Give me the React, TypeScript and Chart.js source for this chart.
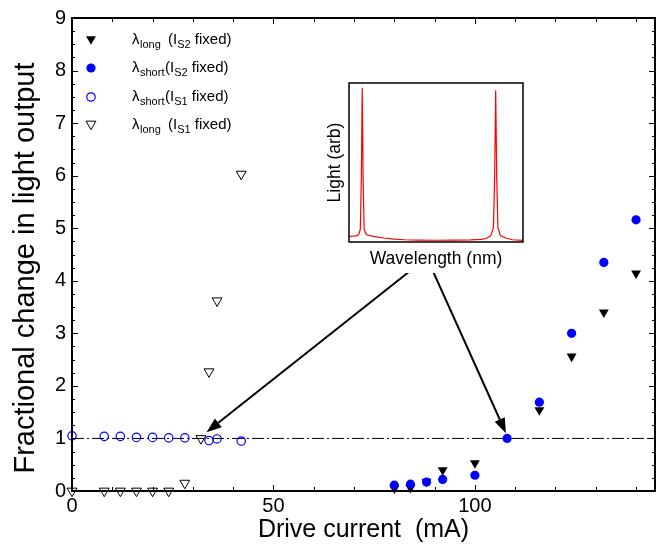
import React, { useEffect, useRef } from "react";
import { Chart, registerables } from "chart.js";

Chart.register(...registerables);

// ---- Measured points: drive current (mA) vs fractional change in light output ----
const longS2Current = [80, 84, 88, 92, 100, 116, 124, 132, 140];
const longS2Change = [0.05, 0.06, 0.18, 0.4, 0.53, 1.54, 2.56, 3.4, 4.14];

const shortS2Current = [80, 84, 88, 92, 100, 108, 116, 124, 132, 140];
const shortS2Change = [0.11, 0.13, 0.17, 0.22, 0.3, 1.0, 1.69, 3.0, 4.35, 5.16];

const shortS1Current = [0, 8, 12, 16, 20, 24, 28, 34, 36, 42];
const shortS1Change = [1.05, 1.04, 1.04, 1.02, 1.02, 1.01, 1.01, 0.96, 0.99, 0.95];

const longS1Current = [0, 8, 12, 16, 20, 24, 28, 32, 34, 36, 42];
const longS1Change = [0, 0, 0, 0, 0, 0, 0.15, 1.0, 2.27, 3.62, 6.03];

// Unity reference level (dash-dot line)
const referenceLevel = 1;

// Axis ranges and tick labels
const xMin = 0;
const xMax = 144.7;
const xTickLabels = [0, 50, 100];
const yMin = 0;
const yMax = 9;

// Inset spectrum (arbitrary wavelength units, arbitrary light units)
const spectrumWavelength = [
  0, 2, 4, 5.5, 6.5, 7.1, 7.6, 8.1, 8.7, 10, 14, 20, 26, 32, 40, 50, 60, 70, 76,
  79, 81.5, 83, 83.7, 84.3, 84.9, 85.6, 87, 90, 94, 100,
];
const spectrumLight = [
  0.035, 0.036, 0.038, 0.045, 0.08, 0.4, 0.97, 0.4, 0.08, 0.045, 0.035, 0.025,
  0.018, 0.014, 0.012, 0.011, 0.012, 0.013, 0.016, 0.022, 0.04, 0.09, 0.4,
  0.955, 0.4, 0.09, 0.04, 0.025, 0.014, 0.01,
];

// Arrows from the inset down to the two operating points (data units)
const arrowTails = [
  [84.6, 4.23],
  [89.3, 4.23],
];
const arrowTips = [
  [33.4, 1.12],
  [107.7, 1.1],
];

// Legend rows
const legendRows = [
  { kind: "triFilled", sub: "long", src: "S2" },
  { kind: "circleFilled", sub: "short", src: "S2" },
  { kind: "circleOpen", sub: "short", src: "S1" },
  { kind: "triOpen", sub: "long", src: "S1" },
];

const FONT = '"Liberation Sans", Arial, Helvetica, sans-serif';
const BLUE = "#0000ff";

const toPoints = (xs: number[], ys: number[]) => xs.map((x, i) => ({ x, y: ys[i] }));

function triangleDown(ctx: CanvasRenderingContext2D, x: number, y: number, r: number) {
  const s = Math.sin(Math.PI / 3) * r;
  ctx.beginPath();
  ctx.moveTo(x, y + r);
  ctx.lineTo(x - s, y - r / 2);
  ctx.lineTo(x + s, y - r / 2);
  ctx.closePath();
}

function drawMarker(ctx: CanvasRenderingContext2D, kind: string, x: number, y: number) {
  ctx.save();
  if (kind === "triFilled") {
    triangleDown(ctx, x, y - 1, 5.7);
    ctx.fillStyle = "#000";
    ctx.fill();
  } else if (kind === "triOpen") {
    triangleDown(ctx, x, y - 1, 5.7);
    ctx.strokeStyle = "#000";
    ctx.lineWidth = 1;
    ctx.stroke();
  } else if (kind === "circleFilled") {
    ctx.beginPath();
    ctx.arc(x, y, 4.6, 0, Math.PI * 2);
    ctx.fillStyle = BLUE;
    ctx.fill();
  } else {
    ctx.beginPath();
    ctx.arc(x, y, 4.2, 0, Math.PI * 2);
    ctx.strokeStyle = BLUE;
    ctx.lineWidth = 1.2;
    ctx.stroke();
  }
  ctx.restore();
}

// Frame, inward ticks, legend, arrows and axis titles for the main plot
const decorations = {
  id: "decorations",
  afterDatasetsDraw(chart: any) {
    const { ctx, chartArea: a, scales } = chart;
    const xs = scales.x;
    const ys = scales.y;
    ctx.save();

    // inward ticks on all four sides
    ctx.strokeStyle = "#000";
    ctx.lineWidth = 1;
    ctx.beginPath();
    for (let v = yMin; v <= yMax + 1e-6; v += 0.25) {
      const py = Math.round(ys.getPixelForValue(v)) + 0.5;
      const len = Math.abs(v - Math.round(v)) < 1e-6 ? 6 : 3;
      ctx.moveTo(a.left, py);
      ctx.lineTo(a.left + len, py);
      ctx.moveTo(a.right, py);
      ctx.lineTo(a.right - len, py);
    }
    for (let v = xMin; v <= xMax; v += 10) {
      const px = Math.round(xs.getPixelForValue(v)) + 0.5;
      const len = v % 50 === 0 ? 6 : 4;
      ctx.moveTo(px, a.bottom);
      ctx.lineTo(px, a.bottom - len);
      ctx.moveTo(px, a.top);
      ctx.lineTo(px, a.top + len);
    }
    ctx.stroke();

    // frame
    ctx.lineWidth = 2;
    ctx.strokeRect(a.left, a.top, a.right - a.left, a.bottom - a.top);

    // arrows
    ctx.fillStyle = "#000";
    ctx.lineWidth = 2;
    arrowTails.forEach((t, i) => {
      const x0 = xs.getPixelForValue(t[0]);
      const y0 = ys.getPixelForValue(t[1]);
      const x1 = xs.getPixelForValue(arrowTips[i][0]);
      const y1 = ys.getPixelForValue(arrowTips[i][1]);
      const ang = Math.atan2(y1 - y0, x1 - x0);
      const headLen = 15;
      const headHalf = 5.5;
      const bx = x1 - Math.cos(ang) * headLen;
      const by = y1 - Math.sin(ang) * headLen;
      ctx.beginPath();
      ctx.moveTo(x0, y0);
      ctx.lineTo(bx, by);
      ctx.stroke();
      ctx.beginPath();
      ctx.moveTo(x1, y1);
      ctx.lineTo(bx - Math.sin(ang) * headHalf, by + Math.cos(ang) * headHalf);
      ctx.lineTo(bx + Math.sin(ang) * headHalf, by - Math.cos(ang) * headHalf);
      ctx.closePath();
      ctx.fill();
    });

    // legend
    const rowY = [40, 68, 97, 125];
    legendRows.forEach((row, i) => {
      const cy = rowY[i];
      drawMarker(ctx, row.kind, 91, cy);
      const base = cy + 3.5;
      ctx.fillStyle = "#000";
      ctx.textBaseline = "alphabetic";
      ctx.textAlign = "left";
      let x = 132;
      ctx.font = `15px ${FONT}`;
      ctx.fillText("\u03bb", x, base);
      x += ctx.measureText("\u03bb").width + 0.5;
      ctx.font = `11px ${FONT}`;
      ctx.fillText(row.sub, x, base + 4);
      x = row.sub === "long" ? 168 : 165;
      ctx.font = `15px ${FONT}`;
      ctx.fillText("(I", x, base);
      x += ctx.measureText("(I").width;
      ctx.font = `11px ${FONT}`;
      ctx.fillText(row.src, x, base + 4);
      x += ctx.measureText(row.src).width;
      ctx.font = `15px ${FONT}`;
      ctx.fillText(" fixed)", x, base);
    });

    // axis titles
    ctx.fillStyle = "#000";
    ctx.textAlign = "center";
    ctx.textBaseline = "middle";
    ctx.font = `25px ${FONT}`;
    ctx.fillText("Drive current  (mA)", (a.left + a.right) / 2, 530);
    ctx.translate(26, 268);
    ctx.rotate(-Math.PI / 2);
    ctx.font = `29px ${FONT}`;
    ctx.fillText("Fractional change in light output", 0, 0);

    ctx.restore();
  },
};

// Box and labels for the inset spectrum
const insetFrame = {
  id: "insetFrame",
  afterDatasetsDraw(chart: any) {
    const { ctx, chartArea: a } = chart;
    ctx.save();
    ctx.strokeStyle = "#000";
    ctx.lineWidth = 1.5;
    ctx.strokeRect(a.left, a.top, a.right - a.left, a.bottom - a.top);
    ctx.fillStyle = "#000";
    ctx.textAlign = "center";
    ctx.textBaseline = "middle";
    ctx.font = `17.5px ${FONT}`;
    ctx.fillText("Wavelength (nm)", (a.left + a.right) / 2, a.bottom + 17);
    ctx.translate(a.left - 14, (a.top + a.bottom) / 2);
    ctx.rotate(-Math.PI / 2);
    ctx.fillText("Light (arb)", 0, 0);
    ctx.restore();
  },
};

export default function App() {
  const mainRef = useRef<HTMLCanvasElement | null>(null);
  const insetRef = useRef<HTMLCanvasElement | null>(null);

  useEffect(() => {
    document.body.style.margin = "0";
    if (!mainRef.current || !insetRef.current) return;

    const main = new Chart(mainRef.current, {
      type: "scatter",
      data: {
        datasets: [
          {
            label: "λshort (IS2 fixed)",
            data: toPoints(shortS2Current, shortS2Change),
            pointStyle: "circle",
            pointRadius: 4.6,
            backgroundColor: BLUE,
            borderColor: BLUE,
            borderWidth: 0,
            clip: false,
          },
          {
            label: "λlong (IS2 fixed)",
            data: toPoints(longS2Current, longS2Change),
            pointStyle: "triangle",
            rotation: 180,
            pointRadius: 5.7,
            backgroundColor: "#000",
            borderColor: "#000",
            borderWidth: 0,
            clip: false,
          },
          {
            label: "λshort (IS1 fixed)",
            data: toPoints(shortS1Current, shortS1Change),
            pointStyle: "circle",
            pointRadius: 4.2,
            backgroundColor: "rgba(0,0,0,0)",
            borderColor: BLUE,
            borderWidth: 1.2,
            clip: false,
          },
          {
            label: "λlong (IS1 fixed)",
            data: toPoints(longS1Current, longS1Change),
            pointStyle: "triangle",
            rotation: 180,
            pointRadius: 5.7,
            backgroundColor: "rgba(0,0,0,0)",
            borderColor: "#000",
            borderWidth: 1,
            clip: false,
          },
          {
            label: "reference",
            data: [
              { x: xMin, y: referenceLevel },
              { x: xMax, y: referenceLevel },
            ],
            showLine: true,
            pointRadius: 0,
            borderColor: "#000",
            borderWidth: 1,
            borderDash: [12, 3, 2, 3],
          },
        ],
      },
      options: {
        animation: false,
        responsive: false,
        devicePixelRatio: 1,
        layout: { padding: { top: 16, right: 7, left: 0, bottom: 0 } },
        plugins: { legend: { display: false }, tooltip: { enabled: false } },
        scales: {
          x: {
            type: "linear",
            min: xMin,
            max: xMax,
            grid: { display: false, drawTicks: false },
            border: { display: false },
            afterBuildTicks: (s: any) => {
              s.ticks = xTickLabels.map((v) => ({ value: v }));
            },
            afterFit: (s: any) => {
              s.height = 57;
            },
            ticks: {
              color: "#000",
              font: { family: FONT, size: 20 },
              padding: 3,
              maxRotation: 0,
              autoSkip: false,
            },
          },
          y: {
            type: "linear",
            min: yMin,
            max: yMax,
            grid: { display: false, drawTicks: false },
            border: { display: false },
            afterFit: (s: any) => {
              s.width = 72;
            },
            ticks: {
              stepSize: 1,
              color: "#000",
              font: { family: FONT, size: 20 },
              padding: 6,
            },
          },
        },
      },
      plugins: [decorations],
    });

    const inset = new Chart(insetRef.current, {
      type: "scatter",
      data: {
        datasets: [
          {
            label: "spectrum",
            data: toPoints(spectrumWavelength, spectrumLight),
            showLine: true,
            pointRadius: 0,
            borderColor: "#ff0000",
            borderWidth: 1.2,
            tension: 0,
          },
        ],
      },
      options: {
        animation: false,
        responsive: false,
        devicePixelRatio: 1,
        layout: { padding: { top: 5, right: 5, left: 31, bottom: 31 } },
        plugins: { legend: { display: false }, tooltip: { enabled: false } },
        scales: {
          x: { type: "linear", min: 0, max: 100, display: false },
          y: { type: "linear", min: 0, max: 1, display: false },
        },
      },
      plugins: [insetFrame],
    });

    return () => {
      main.destroy();
      inset.destroy();
    };
  }, []);

  return (
    <div style={{ position: "relative", width: 662, height: 548, background: "#fff" }}>
      <canvas ref={mainRef} width={662} height={548} style={{ position: "absolute", left: 0, top: 0 }} />
      <canvas
        ref={insetRef}
        width={210}
        height={195}
        style={{ position: "absolute", left: 318, top: 78, background: "#fff" }}
      />
    </div>
  );
}
